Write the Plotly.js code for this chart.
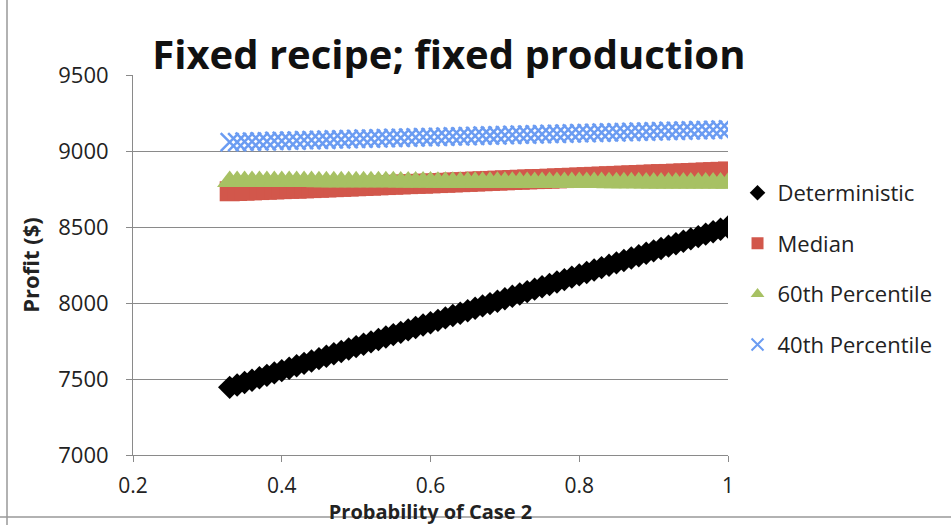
<!DOCTYPE html>
<html>
<head>
<meta charset="utf-8">
<script src="https://cdn.plot.ly/plotly-3.0.1.min.js"></script>
<style>html,body{margin:0;padding:0;background:#fff;}#chart{width:951px;height:525px;}</style>
</head>
<body>
<div id="chart"></div>
<script>
const probability = [0.33,0.34,0.35,0.36,0.37,0.38,0.39,0.40,0.41,0.42,0.43,0.44,0.45,0.46,0.47,0.48,0.49,0.50,0.51,0.52,0.53,0.54,0.55,0.56,0.57,0.58,0.59,0.60,0.61,0.62,0.63,0.64,0.65,0.66,0.67,0.68,0.69,0.70,0.71,0.72,0.73,0.74,0.75,0.76,0.77,0.78,0.79,0.80,0.81,0.82,0.83,0.84,0.85,0.86,0.87,0.88,0.89,0.90,0.91,0.92,0.93,0.94,0.95,0.96,0.97,0.98,0.99,1.00];
const deterministic = [7445,7461,7477,7492,7508,7524,7540,7555,7571,7587,7603,7618,7634,7650,7666,7681,7697,7713,7729,7744,7760,7776,7792,7807,7823,7839,7855,7870,7886,7902,7918,7933,7949,7965,7981,7996,8012,8028,8044,8059,8075,8091,8107,8122,8138,8154,8170,8185,8201,8217,8233,8248,8264,8280,8296,8311,8327,8343,8359,8374,8390,8406,8422,8437,8453,8469,8485,8500];
const median = [8735,8737,8739,8741,8743,8745,8747,8749,8751,8752,8754,8756,8758,8760,8762,8764,8766,8768,8770,8772,8774,8776,8778,8780,8782,8784,8785,8787,8789,8791,8793,8795,8797,8799,8801,8803,8805,8807,8809,8811,8813,8815,8816,8818,8820,8822,8824,8826,8828,8830,8832,8834,8836,8838,8840,8842,8844,8846,8848,8849,8851,8853,8855,8857,8859,8861,8863,8865];
const pct60 = [8800,8800,8800,8800,8800,8800,8799,8799,8799,8799,8799,8799,8798,8798,8798,8798,8798,8797,8797,8797,8797,8797,8797,8796,8796,8796,8796,8796,8795,8795,8795,8795,8795,8795,8794,8794,8794,8794,8794,8794,8793,8793,8793,8793,8793,8792,8792,8792,8792,8792,8792,8791,8791,8791,8791,8791,8790,8790,8790,8790,8790,8790,8789,8789,8789,8789,8789,8788];
const pct40 = [9058,9059,9061,9062,9063,9064,9066,9067,9068,9069,9071,9072,9073,9074,9076,9077,9078,9079,9081,9082,9083,9084,9086,9087,9088,9089,9091,9092,9093,9094,9096,9097,9098,9099,9101,9102,9103,9104,9106,9107,9108,9109,9111,9112,9113,9114,9116,9117,9118,9119,9121,9122,9123,9124,9126,9127,9128,9129,9131,9132,9133,9134,9136,9137,9138,9139,9141,9142];
const seriesNames = ["Deterministic","Median","60th Percentile","40th Percentile"];
const xTicks = [0.2,0.4,0.6,0.8,1];
const xTickLabels = ["0.2","0.4","0.6","0.8","1"];
const yTicks = [7000,7500,8000,8500,9000,9500];

const FONT = "Open Sans, DejaVu Sans, sans-serif";
const traces = [
  {x: probability, y: deterministic, name: seriesNames[0], mode: "markers", legendgroup: "a",
   marker: {symbol: "diamond", size: 18, color: "#000000"}},
  {x: probability, y: median, name: seriesNames[1], mode: "markers", legendgroup: "b",
   marker: {symbol: "square", size: 20, color: "#d2574b"}},
  {x: probability, y: pct60, name: seriesNames[2], mode: "markers", legendgroup: "c",
   marker: {symbol: "triangle-up", size: 22, color: "#a7c163"}},
  {x: probability, y: pct40, name: seriesNames[3], mode: "markers", legendgroup: "d",
   marker: {symbol: "x-thin-open", size: 18, color: "#6b9cf2", line: {color: "#6b9cf2", width: 2.5}}}
];
const layout = {
  width: 951, height: 525,
  margin: {l: 133, r: 223, t: 75, b: 70},
  paper_bgcolor: "#ffffff", plot_bgcolor: "#ffffff",
  font: {family: FONT, color: "#222222"},
  title: {text: "<b>Fixed recipe; fixed production</b>", x: 0.472, xanchor: "center", y: 0.895, yanchor: "middle",
          font: {family: FONT, size: 40, color: "#111111"}},
  xaxis: {range: [0.2, 1], tickvals: xTicks, ticktext: xTickLabels, showgrid: false, zeroline: false,
          showline: true, linecolor: "#8a8a8a", linewidth: 1, ticks: "outside", ticklen: 6, tickcolor: "#8a8a8a",
          ticklabelstandoff: 6,
          tickfont: {size: 21, color: "#222222"},
          title: {text: "<b>Probability of Case 2</b>", font: {size: 20, color: "#222222"}, standoff: 2}},
  yaxis: {range: [7000, 9500], tickvals: yTicks, showgrid: true, gridcolor: "#8a8a8a", gridwidth: 1, zeroline: false,
          showline: true, linecolor: "#8a8a8a", linewidth: 1, ticks: "outside", ticklen: 6, tickcolor: "#8a8a8a",
          ticklabelstandoff: 13,
          tickfont: {size: 22, color: "#222222"},
          title: {text: "<b>Profit ($)</b>", font: {size: 22, color: "#222222"}, standoff: 12}},
  legend: {x: 1.016, y: 0.745, xanchor: "left", yanchor: "top", font: {size: 22, color: "#222222"},
           tracegroupgap: 19, traceorder: "grouped", itemsizing: "constant", itemwidth: 30, bgcolor: "rgba(0,0,0,0)"},
  showlegend: true,
  shapes: [
    {type: "line", xref: "paper", yref: "paper", x0: (7-133)/595, x1: (7-133)/595, y0: -1, y1: 2, line: {color: "#999999", width: 1.5}},
    {type: "line", xref: "paper", yref: "paper", x0: -1, x1: 2, y0: -(517-455)/380, y1: -(517-455)/380, line: {color: "#999999", width: 1.5}}
  ]
};
Plotly.newPlot("chart", traces, layout, {displayModeBar: false, staticPlot: true});
</script>
</body>
</html>
